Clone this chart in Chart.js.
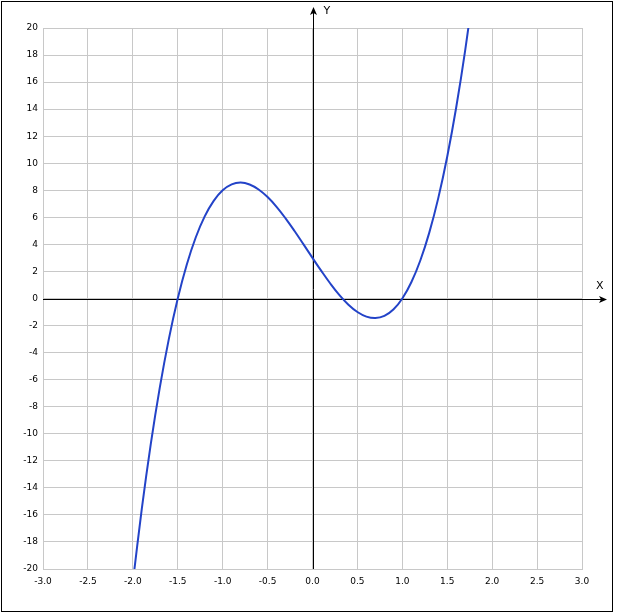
<!DOCTYPE html>
<html>
<head>
<meta charset="utf-8">
<script src="https://cdn.jsdelivr.net/npm/chart.js@4.4.0/dist/chart.umd.min.js"></script>
<style>
  html, body { margin: 0; padding: 0; background: #fff; }
  #wrap { width: 617px; height: 613px; }
</style>
</head>
<body>
<div id="wrap"><canvas id="graph" width="617" height="613"></canvas></div>
<script>
// curve points
const xs = [-2.0, -1.9, -1.8, -1.7, -1.6, -1.5, -1.4, -1.3, -1.2, -1.1,
            -1.0, -0.9, -0.8, -0.7, -0.6, -0.5, -0.4, -0.3, -0.2, -0.1,
             0.0,  0.1,  0.2,  0.3,  0.4,  0.5,  0.6,  0.7,  0.8,  0.9,
             1.0,  1.1,  1.2,  1.3,  1.4,  1.5,  1.6,  1.7,  1.8]
const ys = [-21.0, -15.54, -10.75, -6.59, -3.02, 0.0, 2.50, 4.51, 6.07, 7.22,
             8.0,   8.44,   8.57,  8.43,  8.06, 7.5, 6.78, 5.93, 4.99, 4.0,
             3.0,   2.02,   1.09,  0.25, -0.46, -1.0, -1.34, -1.45, -1.29, -0.82,
             0.0,   1.20,   2.81,  4.87,  7.42, 10.5, 14.14, 18.37, 23.23]

const xMin = -3, xMax = 3, xStep = 0.5
const yMin = -20, yMax = 20, yStep = 2

const points = xs.map((x, i) => ({ x: x, y: ys[i] }))

function arrow(ctx, tx, ty, dir) {
  // dir: 'up' or 'right'
  ctx.beginPath()
  if (dir === "up") {
    ctx.moveTo(tx, ty)
    ctx.lineTo(tx - 3.5, ty + 8)
    ctx.lineTo(tx, ty + 6)
    ctx.lineTo(tx + 3.5, ty + 8)
  } else {
    ctx.moveTo(tx, ty)
    ctx.lineTo(tx - 8, ty - 3.5)
    ctx.lineTo(tx - 6, ty)
    ctx.lineTo(tx - 8, ty + 3.5)
  }
  ctx.closePath()
  ctx.fill()
}

const axesPlugin = {
  id: "axes",
  beforeDatasetsDraw(chart) {
    const ctx = chart.ctx
    const xs = chart.scales.x, ys = chart.scales.y
    const x0 = Math.round(xs.getPixelForValue(0)) + 0.5
    const y0 = Math.round(ys.getPixelForValue(0)) + 0.5
    const area = chart.chartArea
    ctx.save()
    ctx.strokeStyle = "#000"
    ctx.fillStyle = "#000"
    ctx.lineWidth = 1
    ctx.beginPath()
    ctx.moveTo(area.left, y0)
    ctx.lineTo(605, y0)
    ctx.moveTo(x0, area.bottom)
    ctx.lineTo(x0, 10)
    ctx.stroke()
    arrow(ctx, 607, y0, "right")
    arrow(ctx, x0, 7, "up")
    ctx.font = "11px 'DejaVu Sans'"
    ctx.textAlign = "left"
    ctx.textBaseline = "middle"
    ctx.fillText("Y", x0 + 10, 11)
    ctx.fillText("X", 596, y0 - 13)
    ctx.restore()
  },
  afterDraw(chart) {
    const ctx = chart.ctx
    ctx.save()
    ctx.strokeStyle = "#000"
    ctx.lineWidth = 1
    ctx.strokeRect(1.5, 1.5, 611, 610)
    ctx.restore()
  }
}

new Chart(document.getElementById("graph"), {
  type: "line",
  data: {
    datasets: [{
      data: points,
      borderColor: "#2343c8",
      borderWidth: 2,
      pointRadius: 0,
      tension: 0.4,
      fill: false
    }]
  },
  options: {
    responsive: false,
    animation: false,
    layout: { padding: { top: 28, right: 35, left: 0, bottom: 0 } },
    plugins: { legend: { display: false }, tooltip: { enabled: false } },
    scales: {
      x: {
        type: "linear",
        min: xMin, max: xMax,
        afterFit: s => { s.height = 44 },
        grid: { color: "#c8c8c8", drawTicks: false },
        border: { color: "#c8c8c8" },
        ticks: {
          stepSize: xStep,
          padding: 7,
          color: "#000",
          maxRotation: 0,
          autoSkip: false,
          font: { family: "DejaVu Sans", size: 9 },
          callback: v => Number(v).toFixed(1)
        }
      },
      y: {
        min: yMin, max: yMax,
        afterFit: s => { s.width = 43 },
        grid: { color: "#c8c8c8", drawTicks: false },
        border: { color: "#c8c8c8" },
        ticks: {
          stepSize: yStep,
          padding: 5,
          color: "#000",
          autoSkip: false,
          font: { family: "DejaVu Sans", size: 9 }
        }
      }
    }
  },
  plugins: [axesPlugin]
})
</script>
</body>
</html>
